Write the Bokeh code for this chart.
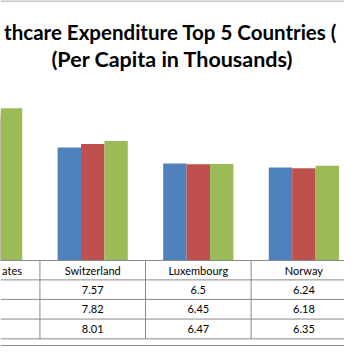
from bokeh.plotting import figure
from bokeh.models import ColumnDataSource, Range1d, Span
from bokeh.transform import dodge
from bokeh.core.properties import value
from bokeh.embed import file_html
from bokeh.resources import INLINE

# ---- data ----
countries = ["United States", "Switzerland", "Luxembourg", "Norway"]
series_names = ["2015", "2016", "2017"]
values_2015 = [9.45, 7.57, 6.5, 6.24]
values_2016 = [9.87, 7.82, 6.45, 6.18]
values_2017 = [10.21, 8.01, 6.47, 6.35]
title_lines = ["thcare Expenditure Top 5 Countries (", "(Per Capita in Thousands)"]
colors = ["#4F81BD", "#C0504D", "#9BBB59"]

# ---- layout geometry (reference pixel space 360x362) ----
REF_W, REF_H = 360.0, 362.0
CAT_W = 110.5          # px per category
CAT0_X = -14.0         # px of first category centre
BASE_Y = 272.0         # px of value 0
PX_PER_UNIT = 15.6


def rx(px):
    return (px - CAT0_X) / CAT_W


def ry(py):
    return (BASE_Y - py) / PX_PER_UNIT


idx = list(range(len(countries)))
src = ColumnDataSource(dict(idx=idx, country=countries,
                            s0=values_2015, s1=values_2016, s2=values_2017))

p = figure(width=344, height=346,
           x_range=Range1d(rx(0), rx(REF_W)),
           y_range=Range1d(ry(REF_H), ry(0)),
           output_backend="svg", toolbar_location=None,
           x_axis_location=None, y_axis_location=None,
           min_border=0, outline_line_color=None,
           background_fill_color="white", border_fill_color="white")
p.grid.visible = False

BW = 24.5 / CAT_W
for k, col in enumerate(["s0", "s1", "s2"]):
    p.vbar(x=dodge("idx", (k - 1) * BW, range=p.x_range), top=col, bottom=0,
           width=BW, source=src, fill_color=colors[k], line_color=None)

LINE_C = "#898989"
# table horizontal rules + chart border lines
for yy in [0.5, BASE_Y, 292.3, 312.7, 333.3, 354.0, 361.0]:
    p.add_layout(Span(location=ry(yy), dimension="width",
                      line_color=LINE_C, line_width=1))
# table column dividers
bounds = [i + 0.5 for i in idx]
p.segment(x0=bounds, x1=bounds, y0=[ry(BASE_Y)] * len(bounds),
          y1=[ry(354.0)] * len(bounds), line_color=LINE_C, line_width=1)

# table texts (only the columns that lie inside the view; the first
# column shows just the visible tail of its header, as in the reference)
FONT = value("Lato")
vis = [i for i in idx if i >= 1]
p.text(x=vis, y=[ry(282.0)] * len(vis), text=[countries[i] for i in vis],
       text_font=FONT, text_font_size="11px", text_color="black",
       text_align="center", text_baseline="middle")
p.text(x=[rx(22.5)], y=[ry(282.0)], text=[countries[0][-4:]],
       text_font=FONT, text_font_size="11px", text_color="black",
       text_align="right", text_baseline="middle")
for vals, yy in zip([values_2015, values_2016, values_2017], [303.0, 323.0, 343.3]):
    p.text(x=vis, y=[ry(yy)] * len(vis),
           text=[f"{vals[i]:g}" for i in vis],
           text_font=FONT, text_font_size="11px", text_color="black",
           text_align="center", text_baseline="middle")

# title (visible part)
p.text(x=[rx(178.0)], y=[ry(33.3)], text=[title_lines[0]],
       text_font=FONT, text_font_style="bold", text_font_size="20.5px",
       text_color="black", text_align="center", text_baseline="alphabetic")
p.text(x=[rx(180.0)], y=[ry(61.0)], text=[title_lines[1]],
       text_font=FONT, text_font_style="bold", text_font_size="21.5px",
       text_color="black", text_align="center", text_baseline="alphabetic")

open("out.html", "w").write(file_html(p, INLINE))
